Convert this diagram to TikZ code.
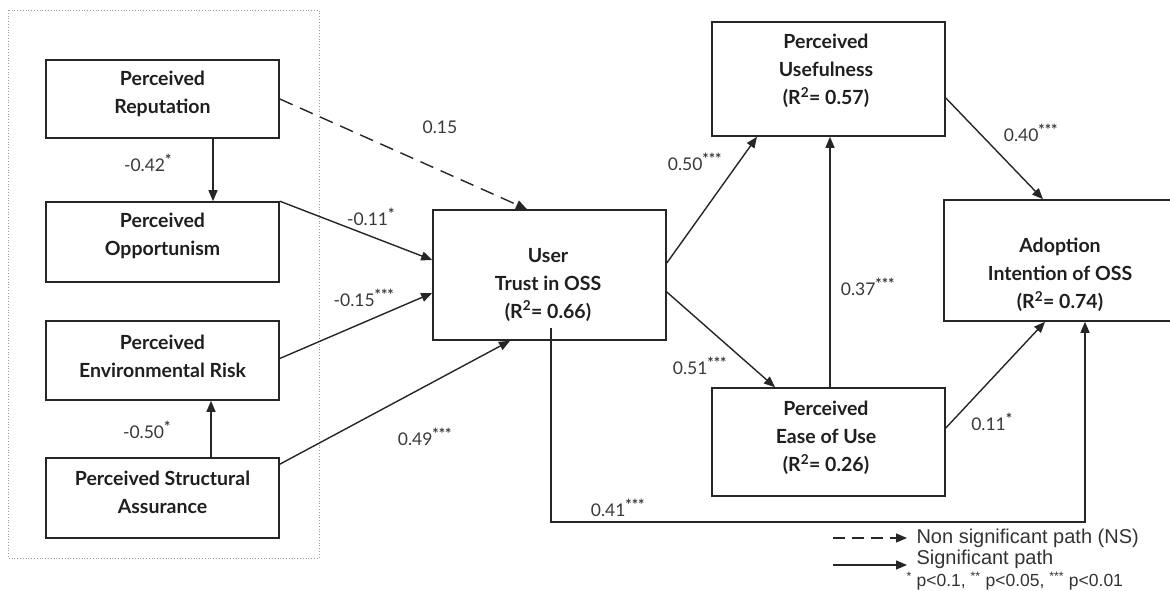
\documentclass[tikz,border=0pt]{standalone}
\usepackage{fontspec}
\setmainfont{Lato}
\newfontfamily\legendfont{Liberation Sans}
\usetikzlibrary{arrows.meta,calc}

\newcommand{\sig}[1]{\textsuperscript{\bfseries\fontsize{15}{15}\selectfont #1}}

\tikzset{
  construct/.style={draw=black!85, line width=1.6pt, rectangle, inner sep=0pt},
  ctext/.style={align=center, font=\bfseries\fontsize{19.5}{28}\selectfont, text=black!88},
  coef/.style={font=\fontsize{17.5}{18}\selectfont, text=black!78},
  path/.style={draw=black!85, line width=1.4pt, -{Triangle[length=11pt,width=9pt]}},
  nspath/.style={path, dash pattern=on 14pt off 8pt},
  legtext/.style={anchor=west, font=\legendfont\fontsize{20}{20}\selectfont, text=black!80},
}

\begin{document}
\begin{tikzpicture}[x=1pt, y=-1pt]
\useasboundingbox (0,0) rectangle (1170,591);
\begin{scope}
\clip (0,0) rectangle (1170,591);

% grouping frame around the trust antecedents
\draw[black!40, line width=0.8pt, dotted] (8,10) rectangle (319,558);

% construct boxes
\node[construct, minimum width=233pt, minimum height=78pt]  (rep) at (162.5,99)  {};
\node[construct, minimum width=233pt, minimum height=80pt]  (opp) at (162.5,242) {};
\node[construct, minimum width=233pt, minimum height=79pt]  (env) at (162.5,360.5) {};
\node[construct, minimum width=233pt, minimum height=80pt]  (sa)  at (162.5,498) {};
\node[construct, minimum width=233pt, minimum height=130pt] (ut)  at (549.5,275) {};
\node[construct, minimum width=233pt, minimum height=114pt] (pu)  at (828.5,79)  {};
\node[construct, minimum width=233pt, minimum height=108pt] (peu) at (828.5,442) {};
\node[construct, minimum width=240pt, minimum height=121pt] (ai)  at (1064,260.5) {};

% construct names
\node[ctext] (rep-t) at (162.5,94)  {Perceived\\Reputation};
\node[ctext] (opp-t) at (162.5,236) {Perceived\\Opportunism};
\node[ctext] (env-t) at (162.5,356) {Perceived\\Environmental Risk};
\node[ctext] (sa-t)  at (162.5,492.5) {Perceived Structural\\Assurance};
\node[ctext] (ut-t)  at (548,285)   {User\\Trust in OSS\\(R\textsuperscript{2}= 0.66)};
\node[ctext] (pu-t)  at (826,71)    {Perceived\\Usefulness\\(R\textsuperscript{2}= 0.57)};
\node[ctext] (peu-t) at (826,438)   {Perceived\\Ease of Use\\(R\textsuperscript{2}= 0.26)};
\node[ctext] (ai-t)  at (1060,275)  {Adoption\\Intention of OSS\\(R\textsuperscript{2}= 0.74)};

% structural paths
\draw[nspath] (rep.east) -- ([xshift=-22.5pt]ut.north);
\draw[path] ([xshift=50.5pt]rep.south) -- ([xshift=50.5pt]opp.north);
\draw[path] (opp.north east) -- ([yshift=15pt]ut.west);
\draw[path] ([yshift=2pt]env.east) -- ([yshift=-18pt]ut.west);
\draw[path] ([yshift=-7pt]sa.north east) -- ([xshift=-39.5pt]ut.south);
\draw[path] ([xshift=48.5pt]sa.north) -- ([xshift=48.5pt]env.south);
\draw[path] ([yshift=12pt]ut.east) -- ([xshift=-71.5pt]pu.south);
\draw[path] ([yshift=-17pt]ut.east) -- ([xshift=-53.5pt]peu.north);
\draw[path] ([xshift=1.5pt]peu.north) -- ([xshift=1.5pt]pu.south);
\draw[path] ([yshift=-19pt]pu.east) -- ([xshift=-21pt]ai.north);
\draw[path] ([yshift=14pt]peu.east) -- ([xshift=-19pt]ai.south);
\coordinate (ut-out) at (551,328);
\coordinate (bend) at (1085,522);
\draw[path] (ut-out) |- (bend) -- ([xshift=21pt]ai.south);

% path coefficients
\node[coef] (c-rep-ut)  at (440,127) {0.15};
\node[coef] (c-rep-opp) at (148,163) {-0.42\sig{*}};
\node[coef] (c-opp-ut)  at (371,217) {-0.11\sig{*}};
\node[coef] (c-env-ut)  at (364,298) {-0.15\sig{***}};
\node[coef] (c-sa-ut)   at (425,437) {0.49\sig{***}};
\node[coef] (c-sa-env)  at (147,430) {-0.50\sig{*}};
\node[coef] (c-ut-pu)   at (695,162) {0.50\sig{***}};
\node[coef] (c-ut-peu)  at (700,366) {0.51\sig{***}};
\node[coef] (c-peu-pu)  at (868,287) {0.37\sig{***}};
\node[coef] (c-pu-ai)   at (1031,133) {0.40\sig{***}};
\node[coef] (c-peu-ai)  at (992,422) {0.11\sig{*}};
\node[coef] (c-ut-ai)   at (618,508) {0.41\sig{***}};

% legend
\coordinate (l1a) at (833,538);
\coordinate (l1b) at (907,538);
\coordinate (l2a) at (833,565);
\coordinate (l2b) at (907,565);
\draw[nspath, dash pattern=on 12pt off 7pt] (l1a) -- (l1b);
\draw[path] (l2a) -- (l2b);
\node[legtext] (leg-ns) at (913,538) {Non significant path (NS)};
\node[legtext] (leg-s)  at (913,559) {Significant path};
\node[legtext, font=\legendfont\fontsize{17.5}{17.5}\selectfont] (leg-p) at (903,581)
  {\textsuperscript{*} p<0.1, \textsuperscript{**} p<0.05, \textsuperscript{***} p<0.01};
\end{scope}
\end{tikzpicture}
\end{document}
